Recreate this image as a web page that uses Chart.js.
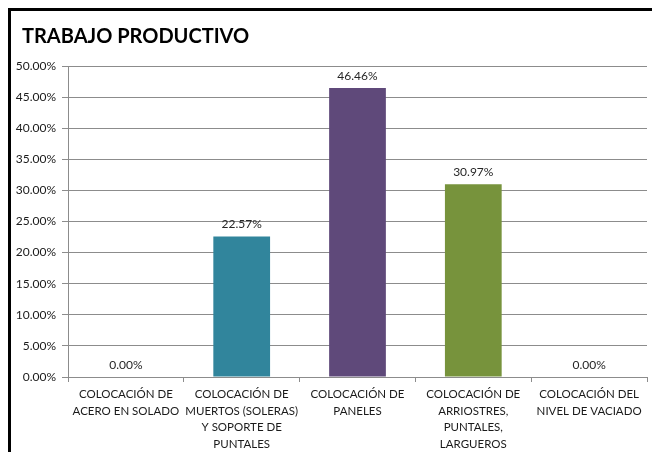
<!DOCTYPE html>
<html>
<head>
<meta charset="utf-8">
<script src="https://cdn.jsdelivr.net/npm/chart.js@4/dist/chart.umd.min.js"></script>
<style>
  html, body { margin: 0; padding: 0; background: #fff; }
  #wrap { position: relative; width: 652px; height: 452px; overflow: hidden; }
  #frame { position: absolute; left: 8px; top: 8px; width: 800px; height: 600px; border: 3px solid #000; box-sizing: border-box; }
  canvas { position: absolute; left: 0; top: 0; }
</style>
</head>
<body>
<div id="wrap">
  <div id="frame"></div>
  <canvas id="c" width="652" height="452"></canvas>
</div>
<script>
const categories = [
  ["COLOCACIÓN DE", "ACERO EN SOLADO"],
  ["COLOCACIÓN DE", "MUERTOS (SOLERAS)", "Y SOPORTE DE", "PUNTALES"],
  ["COLOCACIÓN DE", "PANELES"],
  ["COLOCACIÓN DE", "ARRIOSTRES,", "PUNTALES,", "LARGUEROS"],
  ["COLOCACIÓN DEL", "NIVEL DE VACIADO"]
];
const values = [0.00, 22.57, 46.46, 30.97, 0.00];
const yTicks = [0, 5, 10, 15, 20, 25, 30, 35, 40, 45, 50];
const titleText = "TRABAJO PRODUCTIVO";

const barColors = ["#4F81BD", "#31859C", "#5F497A", "#77933C", "#F79646"];
const FONT = "Lato, 'Open Sans', sans-serif";

const valueLabels = {
  id: 'valueLabels',
  afterDatasetsDraw(chart) {
    const ctx = chart.ctx;
    const meta = chart.getDatasetMeta(0);
    ctx.save();
    ctx.font = "12px " + FONT;
    ctx.fillStyle = "#262626";
    ctx.textAlign = "center";
    ctx.textBaseline = "bottom";
    meta.data.forEach((bar, i) => {
      ctx.fillText(values[i].toFixed(2) + "%", bar.x, bar.y - 6);
    });
    ctx.restore();
  }
};

const titleShift = {
  id: 'titleShift',
  afterLayout(chart) {
    if (chart.titleBlock) chart.titleBlock.left = 22;
  }
};

new Chart(document.getElementById('c'), {
  type: 'bar',
  data: {
    labels: categories,
    datasets: [{
      data: values,
      backgroundColor: barColors,
      categoryPercentage: 1.0,
      barPercentage: 0.49
    }]
  },
  plugins: [valueLabels, titleShift],
  options: {
    responsive: false,
    animation: false,
    devicePixelRatio: 1,
    layout: { padding: { left: 10, right: 5, top: 0, bottom: 0 } },
    plugins: {
      legend: { display: false },
      tooltip: { enabled: false },
      title: {
        display: true,
        text: titleText,
        align: 'start',
        color: '#000',
        font: { family: FONT, size: 20, weight: 'bold', lineHeight: 1.2 },
        padding: { top: 25, bottom: 17 }
      }
    },
    scales: {
      x: {
        offset: true,
        grid: { display: true, drawOnChartArea: false, drawTicks: true, tickLength: 5, color: '#8c8c8c', offset: true },
        border: { display: true, color: '#8c8c8c', width: 1 },
        ticks: { color: '#1a1a1a', font: { family: FONT, size: 11.5, lineHeight: 1.45 }, padding: 4, maxRotation: 0, autoSkip: false },
        afterFit(scale) { scale.height = 75; }
      },
      y: {
        min: 0, max: 50,
        afterBuildTicks(scale) { scale.ticks = yTicks.map(v => ({ value: v })); },
        grid: { color: '#8c8c8c', tickLength: 6, drawTicks: true },
        border: { display: true, color: '#8c8c8c', width: 1 },
        ticks: {
          color: '#1a1a1a',
          font: { family: FONT, size: 12 },
          padding: 6,
          callback: v => Number(v).toFixed(2) + "%"
        },
        afterFit(scale) { scale.width = 58; }
      }
    }
  }
});
</script>
</body>
</html>
